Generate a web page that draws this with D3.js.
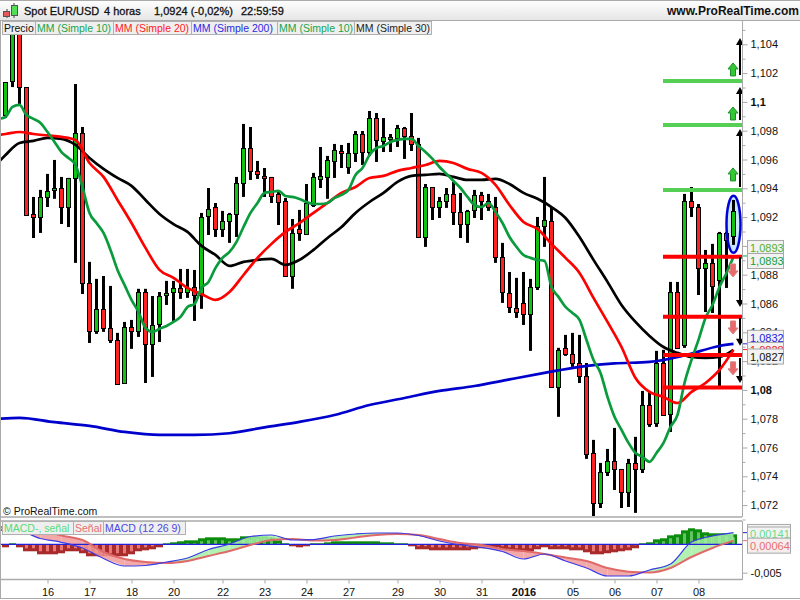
<!DOCTYPE html>
<html lang="es">
<head>
<meta charset="UTF-8">
<script src="https://d3js.org/d3.v7.min.js"></script>
<style>
    html, body { margin: 0; padding: 0; background: #fff; }
    text { font-family: "Liberation Sans", Arial, sans-serif; }
    .axis path, .axis line { stroke: #a8a8a8; }
    .axis text { font-size: 11px; fill: #111; }
</style>
</head>
<body>
<svg id="chart" width="800" height="600" style="display:block"></svg>
<script>
// candles, one row per 4h bar
const open = [1.09909,1.10145,1.10569,1.10103,1.09222,1.09201,1.09340,1.09389,1.09402,1.09270,1.09472,1.09784,1.08743,1.08410,1.08563,1.08430,1.08347,1.08048,1.08437,1.08410,1.08680,1.08319,1.08458,1.08659,1.08680,1.08708,1.08680,1.08715,1.08659,1.09208,1.09270,1.09118,1.09173,1.09222,1.09437,1.09680,1.09521,1.09486,1.09479,1.09361,1.09312,1.08791,1.09118,1.09083,1.09284,1.09465,1.09479,1.09590,1.09659,1.09548,1.09645,1.09777,1.09652,1.09888,1.09729,1.09743,1.09750,1.09819,1.09764,1.09708,1.09062,1.09409,1.09270,1.09312,1.09361,1.09236,1.09152,1.09250,1.09354,1.09312,1.09270,1.08923,1.08673,1.08569,1.08604,1.08527,1.08715,1.09139,1.09173,1.08021,1.08292,1.08250,1.08187,1.08097,1.07562,1.07215,1.07430,1.07507,1.07451,1.07291,1.07493,1.07451,1.07896,1.07771,1.08187,1.07833,1.08680,1.08313,1.09312,1.09270,1.08847,1.08882,1.08764,1.09090,1.09069];
const high = [1.10138,1.10673,1.10673,1.10103,1.09340,1.09389,1.09500,1.09597,1.09479,1.09472,1.10124,1.09826,1.08889,1.08771,1.08791,1.08722,1.08396,1.08472,1.08486,1.08702,1.08702,1.08652,1.08680,1.08757,1.08757,1.08840,1.08840,1.08833,1.09229,1.09402,1.09298,1.09243,1.09229,1.09479,1.09847,1.09826,1.09590,1.09541,1.09479,1.09375,1.09333,1.09187,1.09250,1.09430,1.09507,1.09687,1.09625,1.09708,1.09701,1.09715,1.09798,1.09798,1.09937,1.09923,1.09888,1.09777,1.09840,1.09826,1.09923,1.09750,1.09430,1.09409,1.09340,1.09402,1.09444,1.09368,1.09250,1.09389,1.09375,1.09361,1.09340,1.09021,1.08819,1.08778,1.08819,1.08771,1.09201,1.09479,1.09264,1.08292,1.08382,1.08396,1.08382,1.08187,1.07653,1.07493,1.07590,1.07736,1.07451,1.07521,1.07674,1.07993,1.07993,1.08271,1.08278,1.08750,1.08750,1.09361,1.09409,1.09291,1.08972,1.09014,1.09097,1.09097,1.09319];
const low = [1.09888,1.10103,1.09986,1.09215,1.09055,1.09090,1.09270,1.09327,1.09152,1.09131,1.08882,1.08666,1.08326,1.08389,1.08403,1.08326,1.08034,1.08048,1.08285,1.08368,1.08048,1.08090,1.08333,1.08590,1.08479,1.08632,1.08639,1.08479,1.08563,1.09076,1.09062,1.09062,1.09021,1.09062,1.09340,1.09458,1.09465,1.09340,1.09298,1.09145,1.08791,1.08702,1.09035,1.09083,1.09270,1.09402,1.09327,1.09472,1.09541,1.09500,1.09583,1.09562,1.09625,1.09583,1.09652,1.09652,1.09687,1.09604,1.09659,1.09062,1.08993,1.09180,1.09194,1.09264,1.09145,1.09055,1.09021,1.09194,1.09180,1.09243,1.08882,1.08604,1.08534,1.08500,1.08451,1.08271,1.08694,1.08993,1.08014,1.07813,1.08236,1.08160,1.08048,1.07521,1.07118,1.07180,1.07402,1.07305,1.07180,1.07187,1.07146,1.07423,1.07743,1.07743,1.07826,1.07708,1.08292,1.08292,1.09201,1.08659,1.08541,1.08534,1.08014,1.08708,1.09007];
const close = [1.10138,1.10639,1.10103,1.09215,1.09201,1.09340,1.09382,1.09402,1.09270,1.09472,1.09784,1.08743,1.08410,1.08563,1.08430,1.08347,1.08041,1.08437,1.08410,1.08680,1.08319,1.08451,1.08652,1.08673,1.08708,1.08680,1.08708,1.08659,1.09201,1.09257,1.09118,1.09173,1.09222,1.09437,1.09680,1.09521,1.09500,1.09472,1.09347,1.09305,1.08791,1.09090,1.09090,1.09298,1.09479,1.09486,1.09597,1.09666,1.09645,1.09645,1.09777,1.09652,1.09888,1.09736,1.09757,1.09757,1.09819,1.09764,1.09708,1.09062,1.09409,1.09270,1.09312,1.09361,1.09236,1.09152,1.09243,1.09354,1.09312,1.09270,1.08923,1.08680,1.08576,1.08541,1.08527,1.08715,1.09139,1.09180,1.08021,1.08278,1.08250,1.08187,1.08097,1.07555,1.07215,1.07430,1.07507,1.07451,1.07291,1.07493,1.07451,1.07896,1.07764,1.08187,1.07826,1.08680,1.08292,1.09312,1.09270,1.08847,1.08882,1.08722,1.09090,1.09042,1.09243];

// moving averages. ma10 has a value per bar starting at bar -1, ma20/ma30 every 2 bars starting at -2
const ma10 = [1.09882,1.09895,1.09965,1.09979,1.09909,1.09882,1.09854,1.09791,1.09722,1.09652,1.09610,1.09562,1.09409,1.09229,1.09159,1.09090,1.08972,1.08833,1.08729,1.08625,1.08541,1.08430,1.08403,1.08424,1.08444,1.08472,1.08507,1.08576,1.08597,1.08708,1.08750,1.08847,1.08917,1.08958,1.09028,1.09131,1.09229,1.09298,1.09368,1.09375,1.09382,1.09347,1.09340,1.09326,1.09305,1.09291,1.09291,1.09298,1.09333,1.09354,1.09389,1.09493,1.09541,1.09631,1.09680,1.09694,1.09722,1.09736,1.09743,1.09743,1.09694,1.09652,1.09604,1.09548,1.09500,1.09451,1.09402,1.09340,1.09284,1.09270,1.09298,1.09236,1.09159,1.09062,1.08993,1.08937,1.08917,1.08903,1.08896,1.08715,1.08646,1.08576,1.08534,1.08486,1.08347,1.08208,1.08118,1.07951,1.07813,1.07722,1.07632,1.07562,1.07535,1.07500,1.07562,1.07632,1.07743,1.07826,1.08048,1.08208,1.08347,1.08500,1.08590,1.08715,1.08812,1.08924];
const ma20 = [1.09764,1.09777,1.09791,1.09777,1.09767,1.09757,1.09736,1.09576,1.09479,1.09319,1.09159,1.08986,1.08833,1.08778,1.08708,1.08666,1.08625,1.08680,1.08798,1.08917,1.09014,1.09097,1.09159,1.09229,1.09298,1.09368,1.09409,1.09472,1.09486,1.09521,1.09541,1.09562,1.09590,1.09576,1.09535,1.09507,1.09424,1.09284,1.09166,1.09118,1.09014,1.08917,1.08812,1.08639,1.08472,1.08298,1.08083,1.07986,1.07951,1.07909,1.07986,1.08048,1.08139,1.08278];
const ma30 = [1.09528,1.09631,1.09715,1.09729,1.09750,1.09743,1.09701,1.09611,1.09535,1.09472,1.09417,1.09319,1.09222,1.09152,1.09097,1.09000,1.08937,1.08861,1.08889,1.08903,1.08910,1.08868,1.08903,1.08972,1.09055,1.09131,1.09229,1.09305,1.09368,1.09444,1.09486,1.09493,1.09500,1.09479,1.09458,1.09458,1.09465,1.09430,1.09368,1.09327,1.09270,1.09194,1.09062,1.08903,1.08750,1.08590,1.08472,1.08375,1.08298,1.08257,1.08229,1.08222,1.08229,1.08278];
const ma200Bars = [-1,2,7,12,17,22,27,32,37,42,47,52,57,62,67,72,77,82,87,92,97,102,104];
const ma200 = [1.07799,1.07806,1.07776,1.07750,1.07708,1.07687,1.07687,1.07699,1.07740,1.07778,1.07826,1.07895,1.07944,1.07993,1.08027,1.08073,1.08118,1.08160,1.08184,1.08194,1.08239,1.08305,1.08319];

// MACD pane, read every 3 bars starting at bar -1
const macdLine = [0.00252,0.00234,0.00102,0.00035,-0.00065,-0.0025,-0.00382,-0.00373,-0.00312,-0.00241,-0.00092,0.00005,0.00137,0.00164,0.00076,0.00084,0.00146,0.00181,0.00199,0.00199,0.00155,0.00058,-0.00012,-0.00056,-0.00127,-0.00259,-0.00171,-0.00294,-0.00417,-0.00558,-0.00558,-0.00452,-0.00347,0.0004,0.00146,0.00205];
const signalLine = [0.00304,0.00304,0.00252,0.00155,0.00076,-0.00136,-0.00259,-0.00312,-0.00329,-0.00294,-0.00206,-0.00118,-0.00012,0.00076,0.00093,0.00067,0.00076,0.0012,0.00164,0.00181,0.00164,0.00093,0.00023,-0.00012,-0.00083,-0.00118,-0.00171,-0.00232,-0.00294,-0.00417,-0.00482,-0.00496,-0.00417,-0.00224,-0.00065,0.00064];
const histogram = [-0.00053,0.00018,-0.00053,-0.00123,-0.00123,-0.00176,-0.00176,-0.00176,-0.00158,-0.00123,-0.00123,-0.00158,-0.00211,-0.00211,-0.00211,-0.00211,-0.00211,-0.00211,-0.00176,-0.00123,-0.00106,-0.00088,-0.00053,0.00018,0.00035,0.00053,0.0007,0.0007,0.00106,0.00123,0.00123,0.00123,0.00106,0.00106,0.00141,0.00141,0.00141,0.00141,0.00123,0.0007,0.00018,-0.00035,-0.00053,-0.00035,0.00018,0.00018,0.00035,0.00053,0.00053,0.00053,0.00053,0.00053,0.00053,0.00053,0.00035,0.00035,0.00018,0.00018,-0.00035,-0.00088,-0.00088,-0.00106,-0.00106,-0.00106,-0.00106,-0.00106,-0.00106,-0.00088,-0.0007,-0.00053,-0.00053,-0.00088,-0.00106,-0.00123,-0.00123,-0.00123,-0.00088,-0.00053,-0.00088,-0.00088,-0.00088,-0.00106,-0.00106,-0.00141,-0.00176,-0.00176,-0.00158,-0.00141,-0.00123,-0.00106,-0.0007,0.00018,0.00035,0.00088,0.00106,0.00158,0.00176,0.00246,0.00282,0.00264,0.00211,0.00194,0.00194,0.00194,0.00176];

// support / resistance levels and arrows of the drawing tools
const greenLevels = [1.10521,1.10145,1.09840,1.09389];
const redLevels = [1.08925,1.08508,1.08243,1.08016];
const upArrowFrom = [1.10187,1.09875,1.09409];
const upArrowTo = [1.10444,1.10103,1.09812];
const downArrowFrom = [1.08923,1.08500,1.08222];
const downArrowTo = [1.08576,1.08306,1.08048];
const greenMarks = [1.10222,1.09916,1.09493];
const redMarks = [1.08833,1.08437,1.08153];

// axes
const priceTicks = [1.072,1.074,1.076,1.078,1.08,1.082,1.084,1.086,1.088,1.09,1.092,1.094,1.096,1.098,1.1,1.102,1.104];
const priceLabels = ["1,072","1,074","1,076","1,078","1,08","1,082","1,084","1,086","1,088","1,09","1,092","1,094","1,096","1,098","1,1","1,102","1,104"];
const minorTicks = [1.071,1.073,1.075,1.077,1.079,1.081,1.083,1.085,1.087,1.089,1.091,1.093,1.095,1.097,1.099,1.101,1.103,1.105];
const boldLabels = ["1,08","1,09","1,1","2016"];
const dateBars = [6,12,18,24,31,37,43,49,56,62,68,74,81,87,93,99];
const dateLabels = ["16","17","18","20","22","23","24","27","29","30","31","2016","05","06","07","08"];

const legendNames = ["Precio","MM (Simple 10)","MM (Simple 20)","MM (Simple 200)","MM (Simple 10)","MM (Simple 30)"];
const legendColors = ["#111","#1aa34a","#ff2020","#2a2ae0","#1aa34a","#222"];
const legendEdges = [2,35,113,191,277,354,431];
const macdNames = ["MACD-, señal","Señal","MACD (12 26 9)"];
const macdColors = ["#55dd77","#e87070","#4a4ae0"];
const macdEdges = [2,73,103,185];

const svg = d3.select("#chart");
const defs = svg.append("defs");

const x = d3.scaleLinear().domain([0, 104]).range([5.5, 733.5]);
const y = d3.scaleLinear().domain([1.104, 1.072]).range([44.3, 505.1]);
const yMacd = d3.scaleLinear().domain([0, -0.005]).range([544.3, 572.7]);

defs.append("clipPath").attr("id", "priceClip").append("rect")
    .attr("x", 1).attr("y", 34).attr("width", 741).attr("height", 482);
defs.append("clipPath").attr("id", "macdClip").append("rect")
    .attr("x", 1).attr("y", 522).attr("width", 741).attr("height", 57);

const headGrad = defs.append("linearGradient").attr("id", "headGrad").attr("x2", 0).attr("y2", 1);
headGrad.append("stop").attr("offset", 0).attr("stop-color", "#ffffff");
headGrad.append("stop").attr("offset", 1).attr("stop-color", "#e6e6e6");

// price pane
const price = svg.append("g").attr("clip-path", "url(#priceClip)");

// blue highlight around last bar, fill goes under the candle
price.append("ellipse").attr("cx", x(104)).attr("cy", y(1.0915)).attr("rx", 7).attr("ry", 28.5)
    .attr("fill", "#c9e6fb");

const bars = d3.range(open.length);
price.selectAll(".wick").data(bars).enter().append("line")
    .attr("x1", i => x(i)).attr("x2", i => x(i))
    .attr("y1", i => y(high[i])).attr("y2", i => y(low[i]))
    .attr("stroke", "#000").attr("stroke-width", 3);
price.selectAll(".body").data(bars).enter().append("rect")
    .attr("x", i => x(i) - 2).attr("width", 4)
    .attr("y", i => Math.round(y(Math.max(open[i], close[i]))) + 0.5)
    .attr("height", i => Math.max(1, Math.round(Math.abs(y(open[i]) - y(close[i])))))
    .attr("fill", i => close[i] >= open[i] ? "#12c412" : "#ff2222")
    .attr("stroke", "#000").attr("stroke-width", 1);

function maLine(values, barOf, color) {
    const line = d3.line().x((d, k) => x(barOf(k))).y(d => y(d)).curve(d3.curveMonotoneX);
    price.append("path").attr("d", line(values)).attr("fill", "none")
        .attr("stroke", color).attr("stroke-width", 2.7).attr("stroke-linejoin", "round");
}
maLine(ma200, k => ma200Bars[k], "#0000cc");
maLine(ma30, k => -2 + k * 2, "#000000");
maLine(ma20, k => -2 + k * 2, "#ff0000");
maLine(ma10, k => -1 + k, "#0a9c3c");

price.append("ellipse").attr("cx", x(104)).attr("cy", y(1.0915)).attr("rx", 7).attr("ry", 28.5)
    .attr("fill", "none").attr("stroke", "#0000d8").attr("stroke-width", 2.5);

const levelX1 = 663, levelX2 = 742;
price.selectAll(".greenLevel").data(greenLevels).enter().append("line")
    .attr("x1", levelX1).attr("x2", levelX2).attr("y1", d => y(d)).attr("y2", d => y(d))
    .attr("stroke", "#55d055").attr("stroke-width", 4);
price.selectAll(".redLevel").data(redLevels).enter().append("line")
    .attr("x1", levelX1).attr("x2", levelX2).attr("y1", d => y(d)).attr("y2", d => y(d))
    .attr("stroke", "#ff0000").attr("stroke-width", 4);

// black arrows between levels
const arrowX = 740;
function blackArrow(from, to) {
    const dir = to > from ? 1 : -1;
    price.append("line").attr("x1", arrowX).attr("x2", arrowX)
        .attr("y1", y(from)).attr("y2", y(to) + dir * 4)
        .attr("stroke", "#000").attr("stroke-width", 2);
    price.append("path").attr("transform", `translate(${arrowX},${y(to)})`)
        .attr("d", `M0,0L4,${dir * 7}L-4,${dir * 7}Z`).attr("fill", "#000");
}
upArrowFrom.forEach((d, k) => blackArrow(d, upArrowTo[k]));
downArrowFrom.forEach((d, k) => blackArrow(d, downArrowTo[k]));

// small block arrows
const blockUp = "M0,-7L5,-1L2.5,-1L2.5,6L-2.5,6L-2.5,-1L-5,-1Z";
const blockDown = "M0,7L5,1L2.5,1L2.5,-6L-2.5,-6L-2.5,1L-5,1Z";
price.selectAll(".gm").data(greenMarks).enter().append("path")
    .attr("transform", d => `translate(733,${y(d)})`).attr("d", blockUp)
    .attr("fill", "#35c835").attr("stroke", "#1c8f2c");
price.selectAll(".rm").data(redMarks).enter().append("path")
    .attr("transform", d => `translate(733,${y(d)})`).attr("d", blockDown)
    .attr("fill", "#e86a6a").attr("stroke", "#d88080");

svg.append("text").attr("x", 3).attr("y", 515).attr("font-size", 10.5).attr("fill", "#111")
    .text("© ProRealTime.com");

// macd pane
const macd = svg.append("g").attr("clip-path", "url(#macdClip)");
macd.selectAll(".hist").data(histogram).enter().append("rect")
    .attr("x", (d, i) => x(i) - 3.5).attr("width", 7)
    .attr("y", d => Math.min(yMacd(d), yMacd(0)))
    .attr("height", d => Math.abs(yMacd(d) - yMacd(0)))
    .attr("fill", d => d >= 0 ? "#0c8c0c" : "#a82a2a");
macd.selectAll(".stripe").data(histogram).enter().append("rect")
    .attr("x", (d, i) => x(i) - 1.5).attr("width", 3)
    .attr("y", d => d >= 0 ? yMacd(d) + 3 : yMacd(0))
    .attr("height", d => Math.max(0, Math.abs(yMacd(d) - yMacd(0)) - 3))
    .attr("fill", d => d >= 0 ? "#62c462" : "#e87878");

const macdBar = k => -1 + k * 3;
for (let k = 0; k < macdLine.length - 1; k++) {
    const a = macdLine[k] - signalLine[k], b = macdLine[k + 1] - signalLine[k + 1];
    const p = [[macdBar(k), macdLine[k], signalLine[k]], [macdBar(k + 1), macdLine[k + 1], signalLine[k + 1]]];
    if (a * b < 0) {
        const t = a / (a - b);
        const v = macdLine[k] + t * (macdLine[k + 1] - macdLine[k]);
        p.splice(1, 0, [macdBar(k) + t * 3, v, v]);
    }
    for (let j = 0; j < p.length - 1; j++) {
        const up = (p[j][1] - p[j][2]) + (p[j + 1][1] - p[j + 1][2]) > 0;
        macd.append("path")
            .attr("d", `M${x(p[j][0])},${yMacd(p[j][1])}L${x(p[j + 1][0])},${yMacd(p[j + 1][1])}L${x(p[j + 1][0])},${yMacd(p[j + 1][2])}L${x(p[j][0])},${yMacd(p[j][2])}Z`)
            .attr("fill", up ? "#a4efa4" : "#f29a9a").attr("fill-opacity", 0.85);
    }
}
macd.append("line").attr("x1", 1).attr("x2", 742).attr("y1", yMacd(0)).attr("y2", yMacd(0))
    .attr("stroke", "#2222dd").attr("stroke-width", 1.2);
const mLine = d3.line().x((d, k) => x(macdBar(k))).y(d => yMacd(d)).curve(d3.curveMonotoneX);
macd.append("path").attr("d", mLine(signalLine)).attr("fill", "none").attr("stroke", "#e06a6a").attr("stroke-width", 2);
macd.append("path").attr("d", mLine(macdLine)).attr("fill", "none").attr("stroke", "#3a3ae6").attr("stroke-width", 1.2);

// axes
const rightMinor = d3.axisRight(y).tickValues(minorTicks).tickSize(3).tickFormat("");
svg.append("g").attr("class", "axis").attr("transform", "translate(742.5,0)").call(rightMinor)
    .select(".domain").remove();
const rightAxis = d3.axisRight(y).tickValues(priceTicks).tickSize(5).tickPadding(3)
    .tickFormat(d => priceLabels[priceTicks.indexOf(d)]);
const rightG = svg.append("g").attr("class", "axis").attr("transform", "translate(742.5,0)").call(rightAxis);
rightG.select(".domain").remove();
rightG.selectAll("text").attr("font-weight", function() { return boldLabels.includes(this.textContent) ? "bold" : null; });

const bottomAxis = d3.axisBottom(x).tickValues(dateBars).tickSize(4).tickPadding(5)
    .tickFormat(d => dateLabels[dateBars.indexOf(d)]);
const bottomG = svg.append("g").attr("class", "axis").attr("transform", "translate(0,579.5)").call(bottomAxis);
bottomG.select(".domain").remove();
bottomG.selectAll("text").attr("font-weight", function() { return boldLabels.includes(this.textContent) ? "bold" : null; });

const macdAxis = d3.axisRight(yMacd).tickValues([-0.005]).tickSize(5).tickPadding(3).tickFormat(() => "-0,005");
const macdG = svg.append("g").attr("class", "axis").attr("transform", "translate(742.5,0)").call(macdAxis);
macdG.select(".domain").remove();

// frame
const frame = [[0, 20.5, 800, 20.5], [0, 517, 742, 517], [0, 521, 742, 521], [0, 579.5, 742, 579.5], [0, 598.5, 800, 598.5],
    [742.5, 20, 742.5, 517], [742.5, 521, 742.5, 580], [0.5, 20, 0.5, 599], [0, 0.5, 800, 0.5]];
svg.selectAll(".frame").data(frame).enter().append("line")
    .attr("x1", d => d[0]).attr("y1", d => d[1]).attr("x2", d => d[2]).attr("y2", d => d[3])
    .attr("stroke", "#aaaaaa").attr("stroke-width", d => d[1] === d[3] && d[1] < 580 && d[1] > 500 ? 1.5 : 1);

// header
svg.insert("rect", ":first-child").attr("width", 800).attr("height", 20).attr("fill", "url(#headGrad)");
const head = svg.append("g").attr("font-size", 11).attr("fill", "#111").attr("stroke", "#111").attr("stroke-width", 0.3);
head.append("text").attr("x", 24).attr("y", 15).text("Spot EUR/USD");
head.append("text").attr("x", 104).attr("y", 15).text("4 horas");
head.append("text").attr("x", 154).attr("y", 15).text("1,0924 (-0,02%)");
head.append("text").attr("x", 241).attr("y", 15).text("22:59:59");
svg.append("text").attr("x", 667).attr("y", 15).attr("font-size", 12).attr("font-weight", "bold").attr("fill", "#111")
    .text("www.ProRealTime.com");

// logo candles
const logo = svg.append("g");
logo.append("line").attr("x1", 7).attr("x2", 7).attr("y1", 9).attr("y2", 18).attr("stroke", "#444");
logo.append("rect").attr("x", 3.5).attr("y", 11.5).attr("width", 6).attr("height", 5).attr("fill", "#e85858").attr("stroke", "#555");
logo.append("line").attr("x1", 14).attr("x2", 14).attr("y1", 3).attr("y2", 18).attr("stroke", "#444");
logo.append("rect").attr("x", 11.5).attr("y", 5.5).attr("width", 6).attr("height", 10).attr("fill", "#55dd55").attr("stroke", "#555");

// legend buttons
function buttons(names, colors, edges, top, h) {
    const g = svg.append("g");
    names.forEach((name, k) => {
        g.append("rect").attr("x", edges[k] + 0.5).attr("y", top + 0.5)
            .attr("width", edges[k + 1] - edges[k]).attr("height", h)
            .attr("fill", "#efefef").attr("stroke", "#b0b0b0");
        g.append("text").attr("x", edges[k] + 2).attr("y", top + h - 2.5)
            .attr("font-size", 10.5).attr("fill", colors[k]).text(name);
    });
}
buttons(legendNames, legendColors, legendEdges, 21, 13);
buttons(macdNames, macdColors, macdEdges, 521, 13);

// value boxes on the right scale, with the little tick that joins them to the pane
function valueBox(label, color, yc, w, fill) {
    svg.append("rect").attr("x", 747.5).attr("y", yc - 7.5).attr("width", w).attr("height", 15)
        .attr("fill", fill || "#f2f2f2").attr("stroke", "#a8a8a8");
    svg.append("text").attr("x", 750).attr("y", yc + 4).attr("font-size", 11).attr("fill", color).text(label);
}
function sideTick(yv, color) {
    svg.append("line").attr("x1", 743).attr("x2", 747).attr("y1", yv).attr("y2", yv).attr("stroke", color);
}
sideTick(y(1.0832), "#2222dd");
sideTick(y(1.0828), "#ee2020");
sideTick(y(1.0893), "#12a040");
sideTick(yMacd(0.00205), "#2222dd");
sideTick(yMacd(0.00064), "#e87070");
valueBox("1,0832", "#2222dd", y(1.0832) - 6, 36);
valueBox("1,0828", "#ee2020", y(1.0828) + 0.4, 36);
valueBox("1,0827", "#111111", y(1.0827) + 5.5, 36);
valueBox("1,0893", "#55b02a", y(1.0893) - 8, 36);
valueBox("1,0893", "#12a040", y(1.0893) + 5, 36);
valueBox("0,00205", "#2222dd", yMacd(0.00205) - 0.7, 43);
valueBox("0,00141", "#66dd88", yMacd(0.00141) - 1.8, 43);
valueBox("0,00064", "#e87070", yMacd(0.00064) + 5, 43, "#f5eded");
</script>
</body>
</html>
